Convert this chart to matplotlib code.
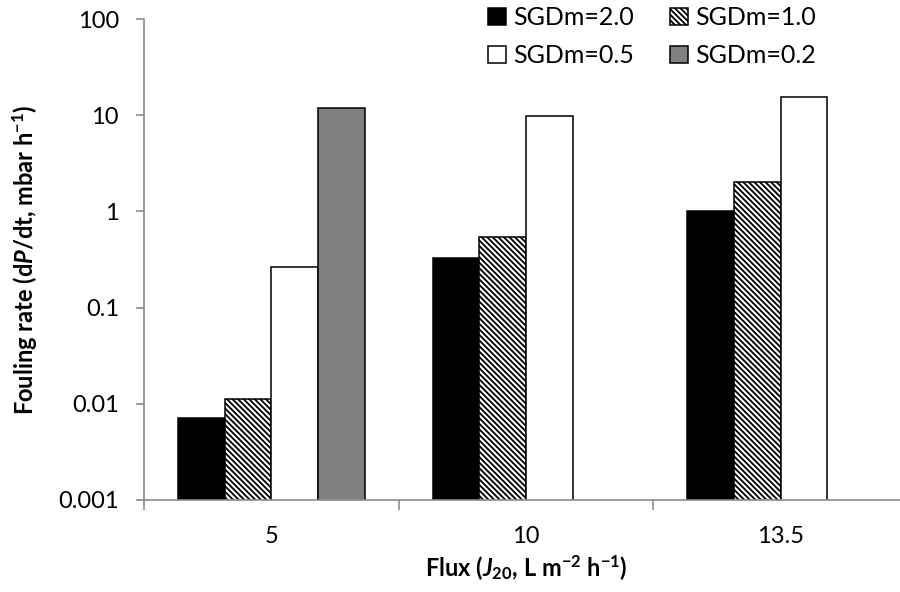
import numpy as np
import matplotlib
matplotlib.use("Agg")
import matplotlib.pyplot as plt

plt.rcParams['font.family'] = ['Lato', 'DejaVu Sans']
plt.rcParams['mathtext.fontset'] = 'custom'
plt.rcParams['mathtext.rm'] = 'Lato'
plt.rcParams['mathtext.bf'] = 'Lato:bold'
plt.rcParams['mathtext.it'] = 'Lato:italic'
plt.rcParams['mathtext.bfit'] = 'Lato:bold:italic'
plt.rcParams['hatch.linewidth'] = 1.3

categories = ['5', '10', '13.5']
series_names = ['SGDm=2.0', 'SGDm=1.0', 'SGDm=0.5', 'SGDm=0.2']
sgdm_2_0 = [0.0071, 0.326, 1.0]
sgdm_1_0 = [0.0112, 0.537, 2.0]
sgdm_0_5 = [0.263, 9.8, 15.3]
sgdm_0_2 = [12.0, np.nan, np.nan]

values = [sgdm_2_0, sgdm_1_0, sgdm_0_5, sgdm_0_2]
fills = ['black', 'white', 'white', '#808080']
hatches = [None, '\\' * 6, None, None]

fig = plt.figure(figsize=(9, 5.92), dpi=100)
ax = fig.add_axes([144 / 900, 92 / 592, 764 / 900, 481 / 592])

x = np.arange(len(categories))
w = 0.183
handles = []
for i, vals in enumerate(values):
    b = ax.bar(x + (i - 1.5) * w, vals, w, color=fills[i], edgecolor='black',
               linewidth=1.1, hatch=hatches[i], label=series_names[i])
    handles.append(b)

ax.set_yscale('log')
ax.set_ylim(0.001, 100)
ax.set_xlim(-0.5, 2.5)
ax.set_yticks([0.001, 0.01, 0.1, 1, 10, 100])
ax.set_yticklabels(['0.001', '0.01', '0.1', '1', '10', '100'])
ax.minorticks_off()
ax.set_xticks(x)
ax.set_xticklabels(categories)
ax.set_xticks(np.arange(-0.5, 3, 1), minor=True)

for s in ['top', 'right']:
    ax.spines[s].set_visible(False)
for s in ['left', 'bottom']:
    ax.spines[s].set_color('#8c8c8c')
    ax.spines[s].set_linewidth(1.2)
ax.tick_params(axis='y', which='major', length=6, width=1.2, color='#8c8c8c',
               labelsize=17, pad=12)
ax.tick_params(axis='x', which='major', length=0, labelsize=17, pad=19)
ax.tick_params(axis='x', which='minor', length=7, width=1.2, color='#8c8c8c')

ax.set_ylabel(r'Fouling rate (d$\mathbfit{P}$/dt, mbar h$^{\mathbf{-1}}$)',
              fontsize=17, fontweight='bold', labelpad=14)
ax.set_xlabel(r'Flux ($\mathbfit{J}_{\mathbf{20}}$, L m$^{\mathbf{-2}}$ h$^{\mathbf{-1}}$)',
              fontsize=17, fontweight='bold', labelpad=4)

order = [0, 2, 1, 3]
fig.legend([handles[i] for i in order], [series_names[i] for i in order],
           ncol=2, loc='upper left', bbox_to_anchor=(488 / 900, 1 - 6 / 592),
           frameon=False, fontsize=18, handlelength=0.7, handleheight=0.7,
           handletextpad=0.3, columnspacing=1.45, labelspacing=0.6,
           borderpad=0, borderaxespad=0)

fig.savefig('out.png', dpi=100)
